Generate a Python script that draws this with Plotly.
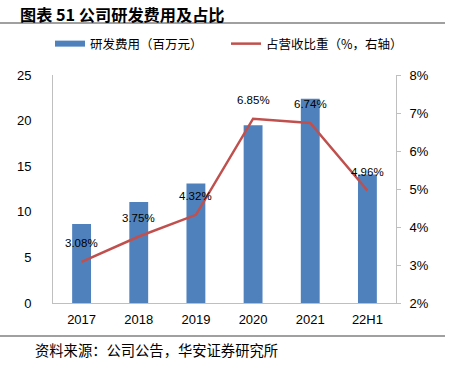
import plotly.graph_objects as go

categories = ["2017", "2018", "2019", "2020", "2021", "22H1"]
rd_expense = [8.66, 11.07, 13.1, 19.5, 22.4, 14.1]
rd_ratio = [3.08, 3.75, 4.32, 6.85, 6.74, 4.96]
left_ticks = [0, 5, 10, 15, 20, 25]
right_ticks = [2, 3, 4, 5, 6, 7, 8]
right_tick_text = [f"{v}%" for v in right_ticks]

BLUE = "#4f81bd"
RED = "#c0504d"
GREY = "#bfbfbf"
CJK = "Noto Sans CJK SC"
NUM = "Liberation Sans"

# plot area in pixels
L, R, T, B = 53, 396, 75, 303
W, H = R - L, B - T


def px(x):
    return (x - L) / W


def py(y):
    return (B - y) / H


idx = list(range(len(categories)))

fig = go.Figure()
fig.add_trace(go.Bar(x=idx, y=rd_expense, marker_color=BLUE,
                     marker_line_width=0, showlegend=False, yaxis="y"))
# legend proxy for bars (wide flat swatch)
fig.add_trace(go.Scatter(x=[0], y=[None], mode="lines", name="研发费用（百万元）",
                         line=dict(color=BLUE, width=6), yaxis="y"))
fig.add_trace(go.Scatter(x=idx, y=rd_ratio, mode="lines", name="占营收比重（%，右轴）",
                         line=dict(color=RED, width=2.5), yaxis="y2"))

for i, v in zip(idx, rd_ratio):
    fig.add_annotation(x=i, y=v, xref="x", yref="y2", text=f"{v:.2f}%", showarrow=False,
                       yshift=19, font=dict(family=NUM, size=11.5, color="#000"))

fig.add_annotation(x=px(18), y=py(14), xref="paper", yref="paper", xanchor="left",
                   yanchor="middle", text="<b>图表 51 公司研发费用及占比</b>", showarrow=False,
                   font=dict(family=CJK, size=16.2, color="#000"))
fig.add_annotation(x=px(33), y=py(349), xref="paper", yref="paper", xanchor="left",
                   yanchor="middle", text="资料来源：公司公告，华安证券研究所", showarrow=False,
                   font=dict(family=CJK, size=14.3, color="#000"))
fig.add_shape(type="line", xref="paper", yref="paper", x0=px(0), x1=px(445),
              y0=py(23), y1=py(23), line=dict(color="#808080", width=1.5))
fig.add_shape(type="line", xref="paper", yref="paper", x0=px(0), x1=px(445),
              y0=py(336), y1=py(336), line=dict(color="#808080", width=1.5))

fig.update_layout(
    width=449, height=370,
    margin=dict(l=L, r=449 - R, t=T, b=370 - B, autoexpand=False),
    paper_bgcolor="white", plot_bgcolor="white",
    bargap=0.67,
    showlegend=True,
    legend=dict(orientation="h", x=px(50), y=py(44), xanchor="left", yanchor="middle",
                font=dict(family=CJK, size=12.5, color="#000"), bgcolor="rgba(0,0,0,0)",
                entrywidth=131),
    xaxis=dict(tickvals=idx, ticktext=categories,
               range=[-0.5, len(categories) - 0.5],
               showline=True, linecolor=GREY, linewidth=1, ticks="",
               tickfont=dict(family=NUM, size=13, color="#000"), showgrid=False,
               zeroline=False, ticklabelstandoff=4),
    yaxis=dict(range=[0, 25], tickvals=left_ticks, showline=True, linecolor=GREY, linewidth=1,
               ticks="", showgrid=False, zeroline=False, ticklabelstandoff=18,
               tickfont=dict(family=NUM, size=13, color="#000")),
    yaxis2=dict(range=[2, 8], tickvals=right_ticks, ticktext=right_tick_text,
                overlaying="y", side="right",
                showline=True, linecolor=GREY, linewidth=1, ticks="outside", ticklen=4,
                tickcolor=GREY, showgrid=False, zeroline=False, ticklabelstandoff=6,
                tickfont=dict(family=NUM, size=13, color="#000")),
)

fig.write_html("out.html", config={"displayModeBar": False},
               post_script="document.body.style.margin='0';")
